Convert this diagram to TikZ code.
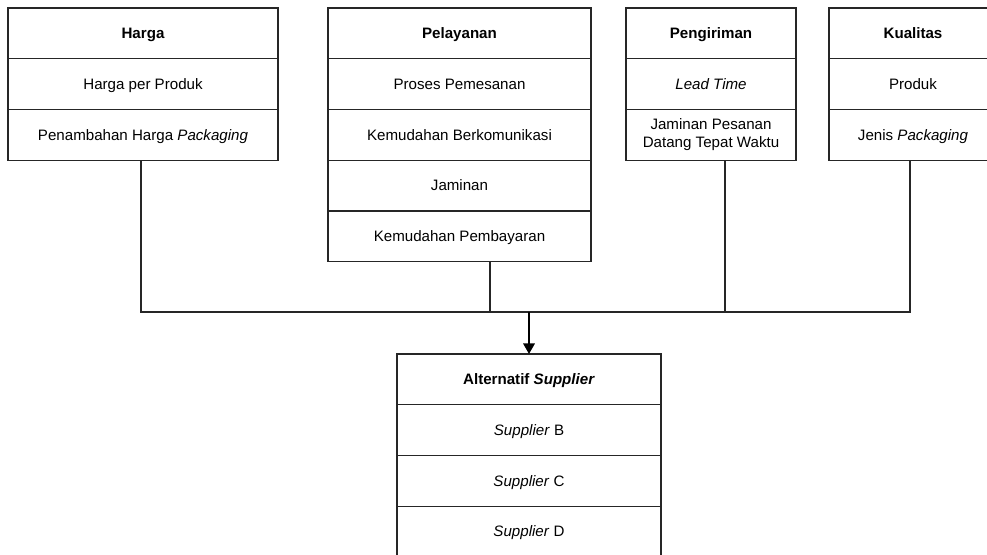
\documentclass[tikz,border=0pt]{standalone}
\usepackage{fontspec}
\setmainfont{Liberation Sans}
\usetikzlibrary{positioning,arrows.meta}

\begin{document}
\begin{tikzpicture}[
        cell/.style={draw=black!85,line width=0.6pt,minimum height=1.015cm,inner sep=0pt,outer sep=0pt,align=center,text height=1.6ex,text depth=0.45ex,font=\fontsize{8.6}{10.4}\selectfont},
        head/.style={cell,font=\fontsize{8.6}{10.4}\selectfont\bfseries},
        link/.style={draw=black!85,line width=0.6pt}]
        \useasboundingbox(0,0)rectangle(19.74,-11.08);

        \node[head,minimum width=5.4cm,anchor=north](harga)at(2.86,-0.16){Harga};
        \node[cell,minimum width=5.4cm,below=0pt of harga](harga1){Harga per Produk};
        \node[cell,minimum width=5.4cm,below=0pt of harga1](harga2){Penambahan Harga \textit{Packaging}};

        \node[head,minimum width=5.26cm,anchor=north](layan)at(9.19,-0.16){Pelayanan};
        \node[cell,minimum width=5.26cm,below=0pt of layan](layan1){Proses Pemesanan};
        \node[cell,minimum width=5.26cm,below=0pt of layan1](layan2){Kemudahan Berkomunikasi};
        \node[cell,minimum width=5.26cm,below=0pt of layan2](layan3){Jaminan};
        \node[cell,minimum width=5.26cm,below=0pt of layan3](layan4){Kemudahan Pembayaran};

        \node[head,minimum width=3.4cm,anchor=north](kirim)at(14.22,-0.16){Pengiriman};
        \node[cell,minimum width=3.4cm,below=0pt of kirim](kirim1){\textit{Lead Time}};
        \node[cell,minimum width=3.4cm,text height=,text depth=,below=0pt of kirim1](kirim2){Jaminan Pesanan\\Datang Tepat Waktu};

        \node[head,minimum width=3.36cm,anchor=north](kual)at(18.26,-0.16){Kualitas};
        \node[cell,minimum width=3.36cm,below=0pt of kual](kual1){Produk};
        \node[cell,minimum width=3.36cm,below=0pt of kual1](kual2){Jenis \textit{Packaging}};

        \node[head,minimum width=5.28cm,anchor=north](alt)at(10.58,-7.08){Alternatif \textit{Supplier}};
        \node[cell,minimum width=5.28cm,below=0pt of alt](altB){\textit{Supplier} B};
        \node[cell,minimum width=5.28cm,below=0pt of altB](altC){\textit{Supplier} C};
        \node[cell,minimum width=5.28cm,below=0pt of altC](altD){\textit{Supplier} D};

        \coordinate[above=0.84cm of alt](bus);
        \draw[link]([xshift=-0.04cm]harga2.south)|-(bus)-|([xshift=-0.06cm]kual2.south);
        \draw[link]([xshift=0.61cm]layan4.south)--([xshift=0.61cm]layan4.south|-bus);
        \draw[link]([xshift=0.28cm]kirim2.south)--([xshift=0.28cm]kirim2.south|-bus);
        \draw[-{Triangle[length=6pt,width=6.5pt]},line width=1.1pt](bus)--(alt.north);
    \end{tikzpicture}
\end{document}
